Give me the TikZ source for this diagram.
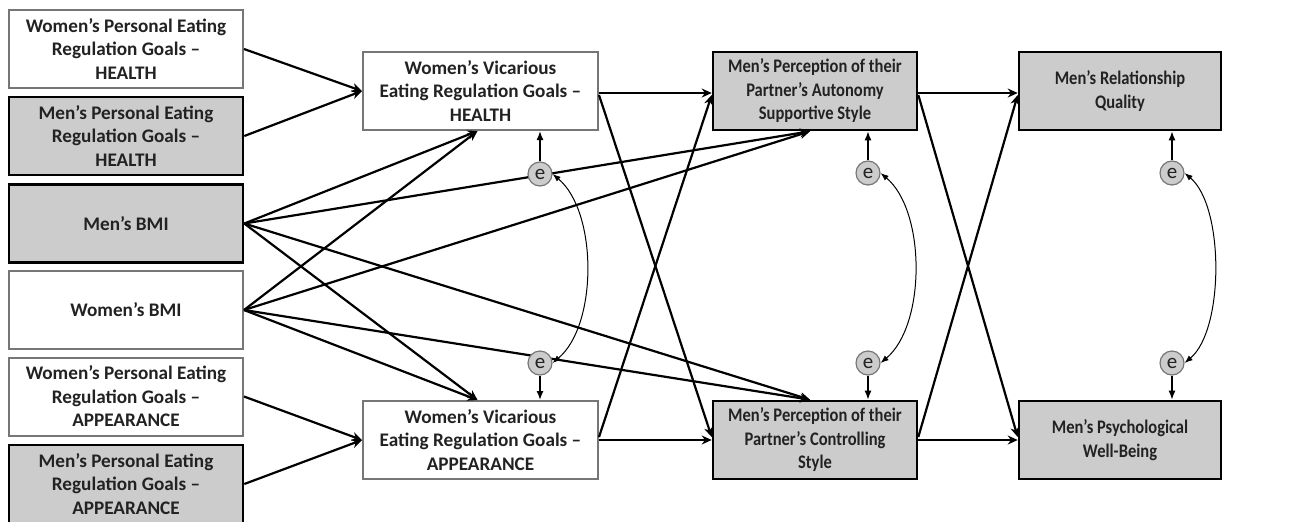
\documentclass[tikz,border=0pt]{standalone}
\usepackage{fontspec}
\setmainfont{Carlito}
\newfontfamily\narrowfont[FakeStretch=0.86]{Carlito}
\usetikzlibrary{arrows.meta,calc}
\definecolor{boxgray}{RGB}{204,204,204}
\definecolor{edgegray}{RGB}{118,118,118}
\definecolor{txt}{RGB}{34,34,34}
\begin{document}
\begin{tikzpicture}[x=0.5pt,y=-0.5pt,
  base/.style={rectangle, align=center, font=\fontsize{9.6}{11.75}\selectfont\bfseries, text=txt, inner sep=0pt},
  small/.style={font=\narrowfont\fontsize{9.6}{11.75}\selectfont\bfseries},
  wbox/.style={base, draw=edgegray, line width=1pt, fill=white},
  mbox/.style={base, draw=black, line width=1.3pt, fill=boxgray},
  leftbox/.style={minimum width=117pt, minimum height=39pt},
  midbox/.style={minimum width=117.5pt, minimum height=39pt},
  rbox/.style={small, minimum width=102pt, minimum height=39pt},
  obox/.style={small, minimum width=101pt, minimum height=39pt},
  err/.style={circle, draw=edgegray, fill=boxgray, line width=0.6pt, minimum size=12pt, inner sep=0pt, text=txt, font=\fontsize{10.5}{11}\selectfont},
  arr/.style={line width=1.1pt, -{Stealth[length=5pt,width=4.5pt]}},
  earr/.style={line width=0.7pt, -{Latex[length=4.5pt,width=3.5pt]}},
  cov/.style={line width=0.5pt, {Latex[length=4pt,width=3pt]}-{Latex[length=4pt,width=3pt]}},
]
\useasboundingbox (0,0) rectangle (1305,521);
\fill[white] (0,0) rectangle (1305,521);

% left column
\node[wbox,leftbox] (wph) at (126,49) {Women’s Personal Eating\\Regulation Goals –\\HEALTH};
\node[mbox,leftbox] (mph) at (126,136) {Men’s Personal Eating\\Regulation Goals –\\HEALTH};
\node[mbox,leftbox] (mbmi) at (126,223.5) {Men’s BMI};
\node[wbox,leftbox] (wbmi) at (126,310) {Women’s BMI};
\node[wbox,leftbox] (wpa) at (126,396.5) {Women’s Personal Eating\\Regulation Goals –\\APPEARANCE};
\node[mbox,leftbox] (mpa) at (126,484) {Men’s Personal Eating\\Regulation Goals –\\APPEARANCE};

% middle
\node[wbox,midbox] (vh) at (480.5,91) {Women’s Vicarious\\Eating Regulation Goals –\\HEALTH};
\node[wbox,midbox] (va) at (480.5,440) {Women’s Vicarious\\Eating Regulation Goals –\\APPEARANCE};

% perception
\node[mbox,rbox] (aut) at (815,91) {Men’s Perception of their\\Partner’s Autonomy\\Supportive Style};
\node[mbox,rbox] (ctl) at (815,440) {Men’s Perception of their\\Partner’s Controlling\\Style};

% outcomes
\node[mbox,obox] (rq) at (1120,91) {Men’s Relationship\\Quality};
\node[mbox,obox] (pwb) at (1120,440) {Men’s Psychological\\Well-Being};

% arrows to vicarious goals
\draw[arr] (wph.east) -- (vh.west);
\draw[arr] (mph.east) -- (vh.west);
\draw[arr] (wpa.east) -- (va.west);
\draw[arr] (mpa.east) -- (va.west);

\draw[arr] (mbmi.east) -- ($(vh.south)+(-3,0)$);
\draw[arr] (mbmi.east) -- ($(va.north)+(-3,0)$);
\draw[arr] (mbmi.east) -- ($(aut.south)+(-5,0)$);
\draw[arr] (mbmi.east) -- ($(ctl.north)+(-5,0)$);
\draw[arr] (wbmi.east) -- ($(vh.south)+(-3,0)$);
\draw[arr] (wbmi.east) -- ($(va.north)+(-3,0)$);
\draw[arr] (wbmi.east) -- ($(aut.south)+(-5,0)$);
\draw[arr] (wbmi.east) -- ($(ctl.north)+(-5,0)$);

% vicarious -> perception
\draw[arr] ($(vh.east)+(0,2)$) -- ($(aut.west)+(0,2)$);
\draw[arr] ($(vh.east)+(0,4)$) -- ($(ctl.west)+(0,-3)$);
\draw[arr] (va.east) -- (ctl.west);
\draw[arr] ($(va.east)+(0,-3)$) -- ($(aut.west)+(0,4)$);

% perception -> outcomes
\draw[arr] ($(aut.east)+(0,2)$) -- ($(rq.west)+(0,2)$);
\draw[arr] ($(aut.east)+(0,4)$) -- ($(pwb.west)+(0,-3)$);
\draw[arr] (ctl.east) -- (pwb.west);
\draw[arr] ($(ctl.east)+(0,-3)$) -- ($(rq.west)+(0,4)$);

% error terms
\node[err] (e1) at (540,174) {e};
\node[err] (e2) at (540,363) {e};
\node[err] (e3) at (868,173) {e};
\node[err] (e4) at (868,363) {e};
\node[err] (e5) at (1172,173) {e};
\node[err] (e6) at (1172,363) {e};

\draw[earr] (e1.north) -- (e1 |- vh.south);
\draw[earr] (e2.south) -- (e2 |- va.north);
\draw[earr] (e3.north) -- (e3 |- aut.south);
\draw[earr] (e4.south) -- (e4 |- ctl.north);
\draw[earr] (e5.north) -- (e5 |- rq.south);
\draw[earr] (e6.south) -- (e6 |- pwb.north);

\draw[cov] (e1.east) to[out=-40,in=40,looseness=0.8] (e2.east);
\draw[cov] (e3.east) to[out=-40,in=40,looseness=0.8] (e4.east);
\draw[cov] (e5.east) to[out=-40,in=40,looseness=0.7] (e6.east);
\end{tikzpicture}
\end{document}
